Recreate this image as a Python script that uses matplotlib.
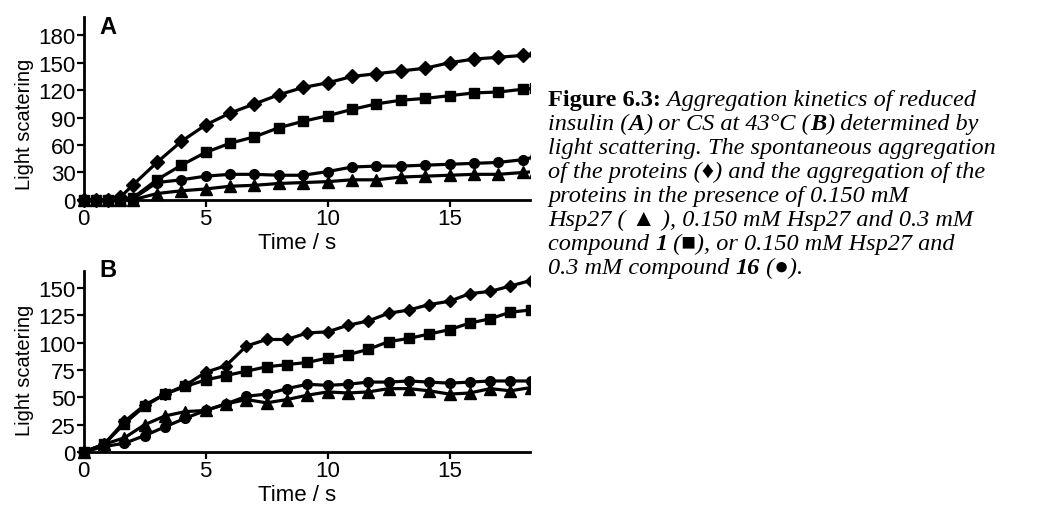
import numpy as np
import matplotlib
matplotlib.use("Agg")
import matplotlib.pyplot as plt

plt.rcParams["font.family"] = ["Liberation Sans", "DejaVu Sans"]

# Panel A: reduced insulin
time_a = [0, 0.5, 1, 1.5, 2, 3, 4, 5, 6, 7, 8, 9, 10, 11, 12, 13, 14, 15, 16, 17, 18, 18.5]
diamond_a = [0, 0, 0, 3, 16, 41, 64, 82, 95, 105, 115, 123, 128, 135, 138, 141, 144, 150, 154, 156, 158, 160]
square_a = [0, 0, 0, 0, 2, 22, 38, 52, 62, 69, 79, 86, 92, 99, 105, 109, 111, 114, 117, 118, 121, 122]
circle_a = [0, 0, 0, 0, 1, 19, 22, 26, 28, 28, 27, 27, 31, 36, 37, 37, 38, 39, 40, 41, 44, 47]
triangle_a = [0, 0, 0, 0, 0, 7, 10, 12, 15, 16, 18, 19, 20, 22, 22, 25, 26, 27, 28, 28, 30, 31]

# Panel B: CS at 43 C
time_b = [0, 0.83, 1.67, 2.5, 3.33, 4.17, 5.0, 5.83, 6.67, 7.5, 8.33, 9.17, 10.0,
          10.83, 11.67, 12.5, 13.33, 14.17, 15.0, 15.83, 16.67, 17.5, 18.33]
diamond_b = [0, 7, 28, 43, 53, 61, 73, 79, 97, 103, 103, 109, 110, 116, 120, 127,
             130, 135, 138, 145, 147, 152, 157]
square_b = [0, 7, 26, 42, 53, 60, 66, 70, 74, 78, 80, 82, 86, 89, 94, 101,
            104, 108, 112, 118, 122, 128, 130]
circle_b = [0, 5, 8, 15, 23, 31, 38, 44, 51, 53, 58, 62, 61, 62, 64, 64,
            65, 64, 63, 64, 65, 65, 65]
triangle_b = [0, 7, 13, 25, 33, 37, 38, 44, 48, 45, 48, 52, 55, 54, 55, 58,
              58, 56, 53, 54, 58, 56, 59]

fig = plt.figure(figsize=(10.4, 5.06), dpi=100)
ax_a = fig.add_axes([0.0808 - 0.019, 0.6067 - 0.017, 0.4288 + 0.019, 0.3577 + 0.017])
ax_b = fig.add_axes([0.0808 - 0.019, 0.1093 - 0.0176, 0.4288 + 0.019, 0.3538 + 0.0176])


def draw_panel(ax, t, series, ymax, yticks, letter, letter_y):
    for vals, m, ms in series:
        ax.plot(t, vals, color="black", lw=2.3, marker=m, ms=ms, zorder=3)
    ax.set_xlim(-0.8, 18.3)
    ax.set_ylim(-ymax * 0.0365, ymax)
    ax.spines["left"].set_position(("data", 0))
    ax.spines["bottom"].set_position(("data", 0))
    ax.spines["left"].set_bounds(0, ymax)
    ax.spines["bottom"].set_bounds(0, 18.3)
    for s in ["top", "right"]:
        ax.spines[s].set_visible(False)
    for s in ["left", "bottom"]:
        ax.spines[s].set_linewidth(2)
    ax.set_xticks([0, 5, 10, 15])
    ax.set_yticks(yticks)
    ax.tick_params(width=1.6, length=5, labelsize=16, pad=1)
    ax.set_xlabel("Time / s", fontsize=16, labelpad=2)
    ax.set_ylabel("Light scatering", fontsize=14.5)
    ax.text(0.65, letter_y, letter, fontsize=17, fontweight="bold", va="center")


draw_panel(ax_a, time_a,
           [(diamond_a, "D", 7), (square_a, "s", 7), (circle_a, "o", 7), (triangle_a, "^", 8)],
           200, [0, 30, 60, 90, 120, 150, 180], "A", 190)
draw_panel(ax_b, time_b,
           [(diamond_b, "D", 6.5), (square_b, "s", 6.5), (circle_b, "o", 7), (triangle_b, "^", 8)],
           166, [0, 25, 50, 75, 100, 125, 150], "B", 167)

ax_a.yaxis.set_label_coords(-0.066, 0.441)
ax_b.yaxis.set_label_coords(-0.066, 0.477)

# caption, built piece by piece
I, BI, B = ("normal", "italic"), ("bold", "italic"), ("bold", "normal")
caption = [
    [("Figure 6.3:", B), (" Aggregation kinetics of reduced", I)],
    [("insulin (", I), ("A", BI), (") or CS at 43\u00b0C (", I), ("B", BI), (") determined by", I)],
    [("light scattering. The spontaneous aggregation", I)],
    [("of the proteins (\u2666) and the aggregation of the", I)],
    [("proteins in the presence of 0.150 mM", I)],
    [("Hsp27 ( \u25b2 ), 0.150 mM Hsp27 and 0.3 mM", I)],
    [("compound ", I), ("1", BI), (" (\u25a0), or 0.150 mM Hsp27 and", I)],
    [("0.3 mM compound ", I), ("16", BI), (" (\u25cf).", I)],
]
serif = ["Liberation Serif", "DejaVu Serif"]
cap_size = 17.5
y0 = 1 - 106 / 506
for i, line in enumerate(caption):
    y = y0 - i * 24 / 506
    last = None
    for txt, (w, st) in line:
        kw = dict(fontsize=cap_size, fontweight=w, fontstyle=st, family=serif)
        if last is None:
            last = fig.text(548 / 1040, y, txt, va="baseline", **kw)
        else:
            last = fig.add_artist(plt.Annotation(txt, xy=(1, 0), xycoords=last,
                                                 va="bottom", annotation_clip=False, **kw))

fig.savefig("out.png", dpi=100)
